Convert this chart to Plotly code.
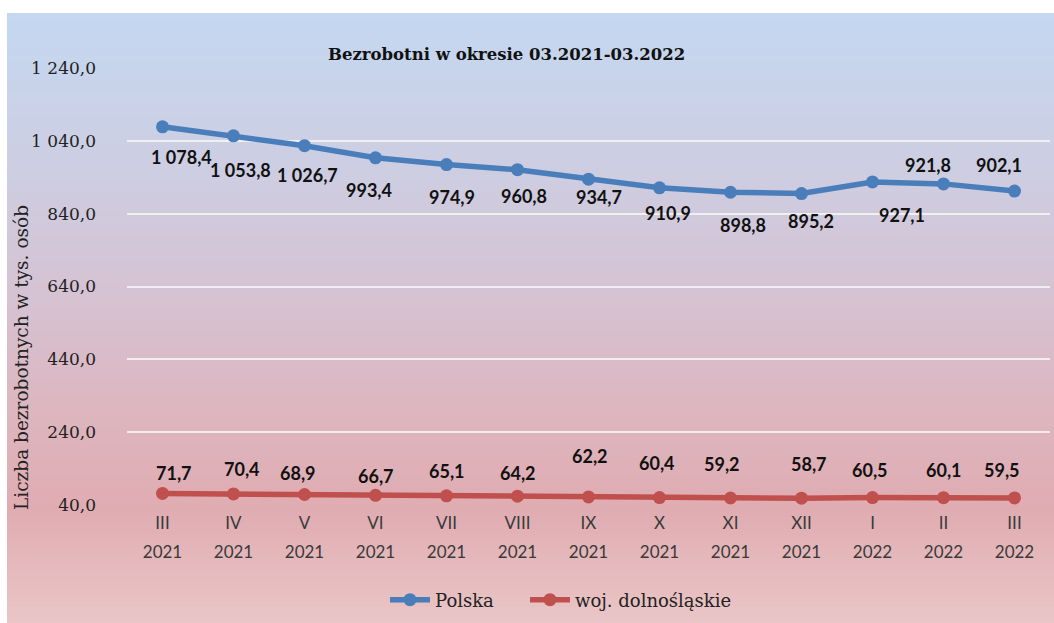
import plotly.graph_objects as go

# ---- data ----
months = ["III", "IV", "V", "VI", "VII", "VIII", "IX", "X", "XI", "XII", "I", "II", "III"]
years = ["2021"] * 10 + ["2022"] * 3
polska = [1078.4, 1053.8, 1026.7, 993.4, 974.9, 960.8, 934.7, 910.9, 898.8, 895.2, 927.1, 921.8, 902.1]
dolno = [71.7, 70.4, 68.9, 66.7, 65.1, 64.2, 62.2, 60.4, 59.2, 58.7, 60.5, 60.1, 59.5]
y_ticks = [40, 240, 440, 640, 840, 1040, 1240]
y_ticklabels = ["40,0", "240,0", "440,0", "640,0", "840,0", "1 040,0", "1 240,0"]

# label offsets (px right, px down) relative to each point
pl_off = [(19, 30), (7, 34), (3, 29), (-7, 32), (5, 32), (6, 26), (10, 18), (8, 25),
          (12, 33), (9, 27), (29, 33), (-16, -19), (-16, -26)]
dl_off = [(11, -20), (8, -25), (-7, -21), (0, -19), (0, -25), (0, -23), (1, -41), (-3, -35),
          (-9, -34), (7, -34), (-3, -28), (0, -28), (-13, -28)]

W, H = 1054, 623
ML, MR, MT, MB = 127, 4, 68, 118
PW, PH = W - ML - MR, H - MT - MB


def px2x(px):
    return (px - ML) / PW


def py2y(py):
    return (H - MB - py) / PH


def fmt(v):
    return f"{v:,.1f}".replace(",", " ").replace(".", ",")


idx = list(range(len(months)))
BLUE = "rgb(74,126,187)"
RED = "rgb(192,80,77)"
SERIF = "DejaVu Serif, Liberation Serif, serif"

fig = go.Figure()
fig.add_trace(go.Scatter(x=idx, y=polska, mode="lines+markers", name="Polska", legend="legend",
                         line=dict(color=BLUE, width=5.5), marker=dict(size=13, color=BLUE)))
fig.add_trace(go.Scatter(x=idx, y=dolno, mode="lines+markers", name="woj. dolnośląskie",
                         legend="legend2",
                         line=dict(color=RED, width=5.5), marker=dict(size=13, color=RED)))
# invisible trace to carry the year axis
fig.add_trace(go.Scatter(x=idx, y=[None] * len(idx), xaxis="x2", showlegend=False,
                         hoverinfo="skip", mode="markers"))

# gradient background
stops = [(13, (196, 216, 241)), (150, (204, 207, 228)), (300, (214, 194, 210)),
         (420, (221, 181, 190)), (510, (224, 172, 178)), (623, (234, 198, 199))]


def col_at(py):
    for (a, ca), (b, cb) in zip(stops[:-1], stops[1:]):
        if a <= py <= b:
            t = (py - a) / (b - a)
            return tuple(round(ca[i] + (cb[i] - ca[i]) * t) for i in range(3))
    return stops[-1][1]


shapes = []
step = 6
py = 13
while py < H:
    py2 = min(py + step, H)
    c = col_at((py + py2) / 2)
    shapes.append(dict(type="rect", xref="paper", yref="paper", layer="below",
                       x0=px2x(7), x1=px2x(W), y0=py2y(py2 + 0.5), y1=py2y(py),
                       fillcolor=f"rgb{c}", line=dict(width=0)))
    py = py2

annotations = []
for i, v in enumerate(polska):
    dx, dy = pl_off[i]
    annotations.append(dict(x=i, y=v, xref="x", yref="y", text=fmt(v), showarrow=False,
                            xshift=dx, yshift=-dy, xanchor="center", yanchor="middle",
                            font=dict(family="Lato", size=18, color="#111", weight="bold")))
for i, v in enumerate(dolno):
    dx, dy = dl_off[i]
    annotations.append(dict(x=i, y=v, xref="x", yref="y", text=fmt(v), showarrow=False,
                            xshift=dx, yshift=-dy, xanchor="center", yanchor="middle",
                            font=dict(family="Lato", size=18, color="#111", weight="bold")))

annotations.append(dict(x=px2x(506), y=py2y(55), xref="paper", yref="paper",
                        text="<b>Bezrobotni w okresie 03.2021-03.2022</b>", showarrow=False,
                        xanchor="center", yanchor="middle",
                        font=dict(family=SERIF, size=16.5, color="#111")))
annotations.append(dict(x=px2x(21), y=py2y(358), xref="paper", yref="paper",
                        text="Liczba bezrobotnych w tys. osób", showarrow=False, textangle=-90,
                        xanchor="center", yanchor="middle",
                        font=dict(family=SERIF, size=18.5, color="#222")))

legend_style = dict(orientation="h", yanchor="middle", y=py2y(600), xanchor="left",
                    bgcolor="rgba(0,0,0,0)", font=dict(family=SERIF, size=18, color="#222"),
                    itemwidth=40)

fig.update_layout(
    width=W, height=H,
    margin=dict(l=ML, r=MR, t=MT, b=MB, pad=0),
    paper_bgcolor="white",
    plot_bgcolor="rgba(0,0,0,0)",
    shapes=shapes,
    annotations=annotations,
    showlegend=True,
    legend=dict(legend_style, x=px2x(385)),
    legend2=dict(legend_style, x=px2x(525)),
    xaxis=dict(range=[-0.5, 12.5], tickmode="array", tickvals=idx, ticktext=months,
               showgrid=False, zeroline=False, showline=False, ticks="", ticklabelstandoff=6,
               tickfont=dict(family="Lato", size=17, color="#3a3a3a")),
    xaxis2=dict(range=[-0.5, 12.5], overlaying="x", side="bottom", anchor="y",
                tickmode="array", tickvals=idx, ticktext=years, ticklabelstandoff=35,
                showgrid=False, zeroline=False, showline=False, ticks="",
                tickfont=dict(family="Lato", size=17, color="#3a3a3a")),
    yaxis=dict(range=[40, 1240], tickmode="array", tickvals=y_ticks, ticktext=y_ticklabels,
               showgrid=True, gridcolor="rgba(246,246,246,0.85)", gridwidth=1.5,
               zeroline=False, showline=False, ticks="", ticklabelstandoff=30,
               tickfont=dict(family=SERIF, size=17, color="#222")),
    hovermode=False,
)

fig.write_html("out.html", config={"displayModeBar": False},
               post_script="document.body.style.margin='0';")
